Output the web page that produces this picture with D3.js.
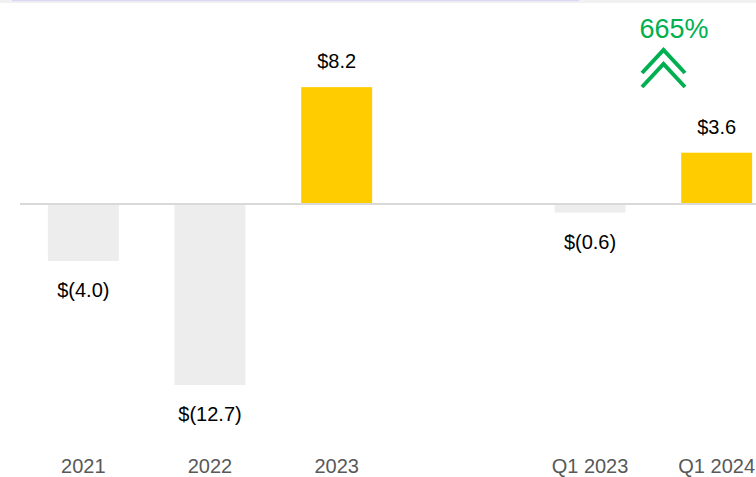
<!DOCTYPE html>
<html>
<head>
<meta charset="utf-8">
<script src="https://cdn.jsdelivr.net/npm/d3@7"></script>
<style>
  html, body { margin: 0; padding: 0; background: #fff; overflow: hidden; }
  svg { display: block; }
  text { font-family: "Liberation Sans", Arial, sans-serif; }
</style>
</head>
<body>
<svg id="chart" width="756" height="477"></svg>
<script>
// Data
const categories = ["2021", "2022", "2023", "", "Q1 2023", "Q1 2024"];
const values = [-4.0, -12.7, 8.2, null, -0.6, 3.6];
const valueLabels = ["$(4.0)", "$(12.7)", "$8.2", "", "$(0.6)", "$3.6"];
const growthLabel = "665%";

const W = 756, H = 477;
const svg = d3.select("#chart");

// top decoration strip
svg.append("rect").attr("x", 0).attr("y", 0).attr("width", W).attr("height", 3).attr("fill", "#f1f1f1");
svg.append("rect").attr("x", 12).attr("y", 0).attr("width", 567).attr("height", 1.2).attr("fill", "#dcd6f7");

const x = d3.scaleBand().domain(categories).range([20, 780]).paddingInner(0.44).paddingOuter(0.22);
const y = d3.scaleLinear().domain([-13, 10]).range([204 + 13 * 14.25, 204 - 10 * 14.25]);

const data = categories.map((c, i) => ({ c, v: values[i], label: valueLabels[i] })).filter(d => d.v !== null);

// bars
svg.append("g").selectAll("rect").data(data).join("rect")
  .attr("x", d => x(d.c))
  .attr("width", x.bandwidth())
  .attr("y", d => d.v >= 0 ? y(d.v) : y(0))
  .attr("height", d => Math.abs(y(d.v) - y(0)))
  .attr("fill", d => d.v >= 0 ? "#FFCC00" : "#EDEDED");

// baseline
svg.append("line").attr("x1", 20).attr("x2", W).attr("y1", y(0)).attr("y2", y(0))
  .attr("stroke", "#D9D9D9").attr("stroke-width", 2);

// value labels
svg.append("g").selectAll("text").data(data).join("text")
  .attr("x", d => x(d.c) + x.bandwidth() / 2)
  .attr("y", d => d.v >= 0 ? y(d.v) - 19 : y(d.v) + 36)
  .attr("text-anchor", "middle")
  .attr("font-size", 20)
  .attr("fill", "#000")
  .text(d => d.label);

// category axis labels
const axis = d3.axisBottom(x).tickSize(0).tickPadding(0);
const gAxis = svg.append("g").attr("transform", "translate(0,454)").call(axis);
gAxis.select(".domain").remove();
gAxis.selectAll("text")
  .attr("font-family", "Liberation Sans, Arial, sans-serif")
  .attr("font-size", 20)
  .attr("fill", "#595959")
  .attr("dy", 0).attr("y", 19);

// growth annotation
svg.append("text").attr("x", 674).attr("y", 38).attr("text-anchor", "middle")
  .attr("font-size", 27).attr("fill", "#00B050").text(growthLabel);

const chevron = d3.line();
[[0], [14]].forEach(([dy]) => {
  svg.append("path")
    .attr("d", chevron([[642, 73 + dy], [663.5, 50 + dy], [685, 73 + dy]]))
    .attr("fill", "none").attr("stroke", "#00B050").attr("stroke-width", 4)
    .attr("stroke-linejoin", "miter");
});
</script>
</body>
</html>
